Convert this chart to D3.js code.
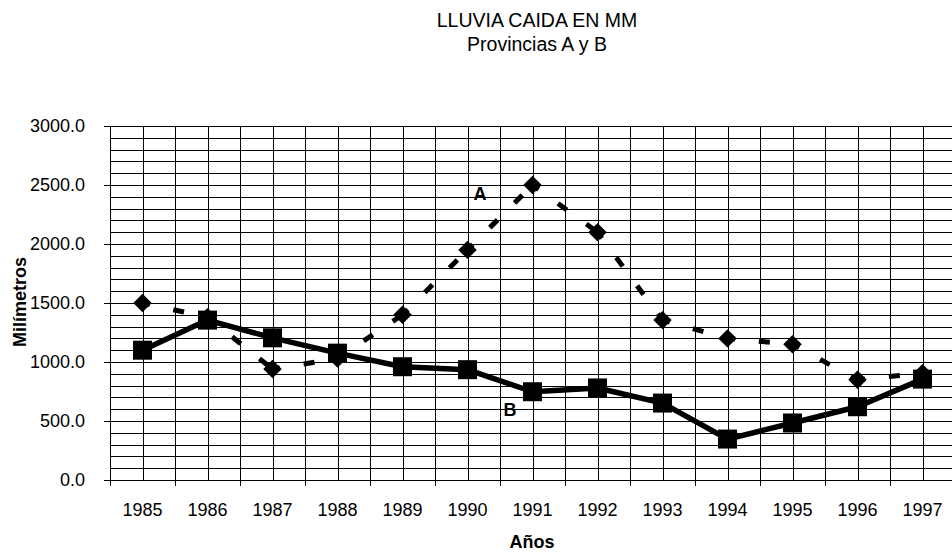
<!DOCTYPE html>
<html lang="es">
<head>
    <meta charset="UTF-8">
    <title>Lluvia caida en mm</title>
    <script src="https://cdn.jsdelivr.net/npm/d3@7"></script>
    <style>
        html, body {
            margin: 0;
            padding: 0;
            background-color: #fff;
        }
        svg text {
            font-family: 'Liberation Sans', Arial, sans-serif;
            fill: #000;
        }
    </style>
</head>
<body>
    <div id="graph"></div>
    <script>
        // DATA
        const years = ["1985", "1986", "1987", "1988", "1989", "1990", "1991",
                       "1992", "1993", "1994", "1995", "1996", "1997"];
        const provinciaA = [1500, 1380, 940, 1030, 1400, 1950, 2500, 2100, 1355, 1200, 1150, 850, 905];
        const provinciaB = [1100, 1355, 1205, 1075, 960, 935, 748, 780, 652, 347, 483, 621, 855];
        const yTicks = [0, 500, 1000, 1500, 2000, 2500, 3000];
        const yGrid = d3.range(100, 3001, 100);

        const width = 952, height = 553;
        const plot = {left: 110, top: 126, bottom: 480, right: 955};

        const svg = d3.select("#graph")
            .append("svg")
            .attr("width", width)
            .attr("height", height);

        const x = d3.scaleBand()
            .domain(years)
            .range([plot.left, plot.right]);

        const y = d3.scaleLinear()
            .domain([0, 3000])
            .range([plot.bottom, plot.top]);

        const cx = d => x(d) + x.bandwidth() / 2;
        const px = v => Math.round(v) + 0.5;

        // GRID
        const grid = svg.append("g")
            .attr("stroke", "#000")
            .attr("stroke-width", 1)
            .attr("shape-rendering", "crispEdges");

        grid.selectAll(".hgrid")
            .data(yGrid).enter()
            .append("line")
            .attr("x1", plot.left).attr("x2", plot.right)
            .attr("y1", d => px(y(d))).attr("y2", d => px(y(d)));

        const vlines = years.map(cx).concat(years.slice(1).map(d => x(d)));
        grid.selectAll(".vgrid")
            .data(vlines).enter()
            .append("line")
            .attr("x1", d => px(d)).attr("x2", d => px(d))
            .attr("y1", plot.top).attr("y2", plot.bottom);

        // AXES
        const yAxis = d3.axisLeft(y)
            .tickValues(yTicks)
            .tickSize(6)
            .tickSizeOuter(0)
            .tickPadding(19)
            .tickFormat(d3.format(".1f"));

        svg.append("g")
            .attr("transform", `translate(${plot.left},0)`)
            .call(yAxis)
            .call(g => g.selectAll("text").style("font-size", "18px"))
            .call(g => g.selectAll("line, path").attr("stroke", "#000").attr("shape-rendering", "crispEdges"));

        const xAxis = d3.axisBottom(x)
            .tickSize(0)
            .tickSizeOuter(0)
            .tickPadding(23);

        svg.append("g")
            .attr("transform", `translate(0,${plot.bottom})`)
            .call(xAxis)
            .call(g => g.selectAll("text").style("font-size", "18px"))
            .call(g => g.select(".domain").attr("stroke", "#000").attr("shape-rendering", "crispEdges"));

        // category boundary ticks
        svg.append("g")
            .attr("stroke", "#000")
            .attr("shape-rendering", "crispEdges")
            .selectAll("line")
            .data(years.map(d => x(d))).enter()
            .append("line")
            .attr("x1", d => px(d)).attr("x2", d => px(d))
            .attr("y1", plot.bottom).attr("y2", plot.bottom + 6);

        // SERIES A (dashed, diamonds) - dash pattern restarts on every segment
        const ptsA = years.map((d, i) => [cx(d), y(provinciaA[i])]);
        const ptsB = years.map((d, i) => [cx(d), y(provinciaB[i])]);
        const line = d3.line();

        svg.append("g")
            .selectAll("path")
            .data(d3.pairs(ptsA)).enter()
            .append("path")
            .attr("d", d => line(d))
            .attr("fill", "none")
            .attr("stroke", "#000")
            .attr("stroke-width", 5)
            .attr("stroke-dasharray", "11,24")
            .attr("stroke-dashoffset", 3.5);

        svg.append("g")
            .selectAll("path")
            .data(ptsA).enter()
            .append("path")
            .attr("d", d3.symbol(d3.symbolSquare, 170))
            .attr("transform", d => `translate(${d[0]},${d[1]}) rotate(45)`)
            .attr("fill", "#000");

        // SERIES B (solid, squares)
        svg.append("path")
            .datum(ptsB)
            .attr("d", line)
            .attr("fill", "none")
            .attr("stroke", "#000")
            .attr("stroke-width", 5.5)
            .attr("stroke-linejoin", "round");

        svg.append("g")
            .selectAll("path")
            .data(ptsB).enter()
            .append("path")
            .attr("d", d3.symbol(d3.symbolSquare, 361))
            .attr("transform", d => `translate(${d[0]},${d[1]})`)
            .attr("fill", "#000");

        // SERIES LABELS
        svg.append("text")
            .attr("x", 480).attr("y", 200)
            .attr("text-anchor", "middle")
            .style("font-size", "18px").style("font-weight", "bold")
            .text("A");

        svg.append("text")
            .attr("x", 510).attr("y", 416)
            .attr("text-anchor", "middle")
            .style("font-size", "18px").style("font-weight", "bold")
            .text("B");

        // TITLES
        svg.append("text")
            .attr("x", 537).attr("y", 27)
            .attr("text-anchor", "middle")
            .style("font-size", "19.5px")
            .text("LLUVIA CAIDA EN MM");

        svg.append("text")
            .attr("x", 537).attr("y", 51)
            .attr("text-anchor", "middle")
            .style("font-size", "19.5px")
            .text("Provincias A y B");

        svg.append("text")
            .attr("transform", "translate(25.5,302) rotate(-90)")
            .attr("text-anchor", "middle")
            .style("font-size", "18px").style("font-weight", "bold")
            .text("Milímetros");

        svg.append("text")
            .attr("x", 532).attr("y", 548)
            .attr("text-anchor", "middle")
            .style("font-size", "18px").style("font-weight", "bold")
            .text("Años");
    </script>
</body>
</html>
